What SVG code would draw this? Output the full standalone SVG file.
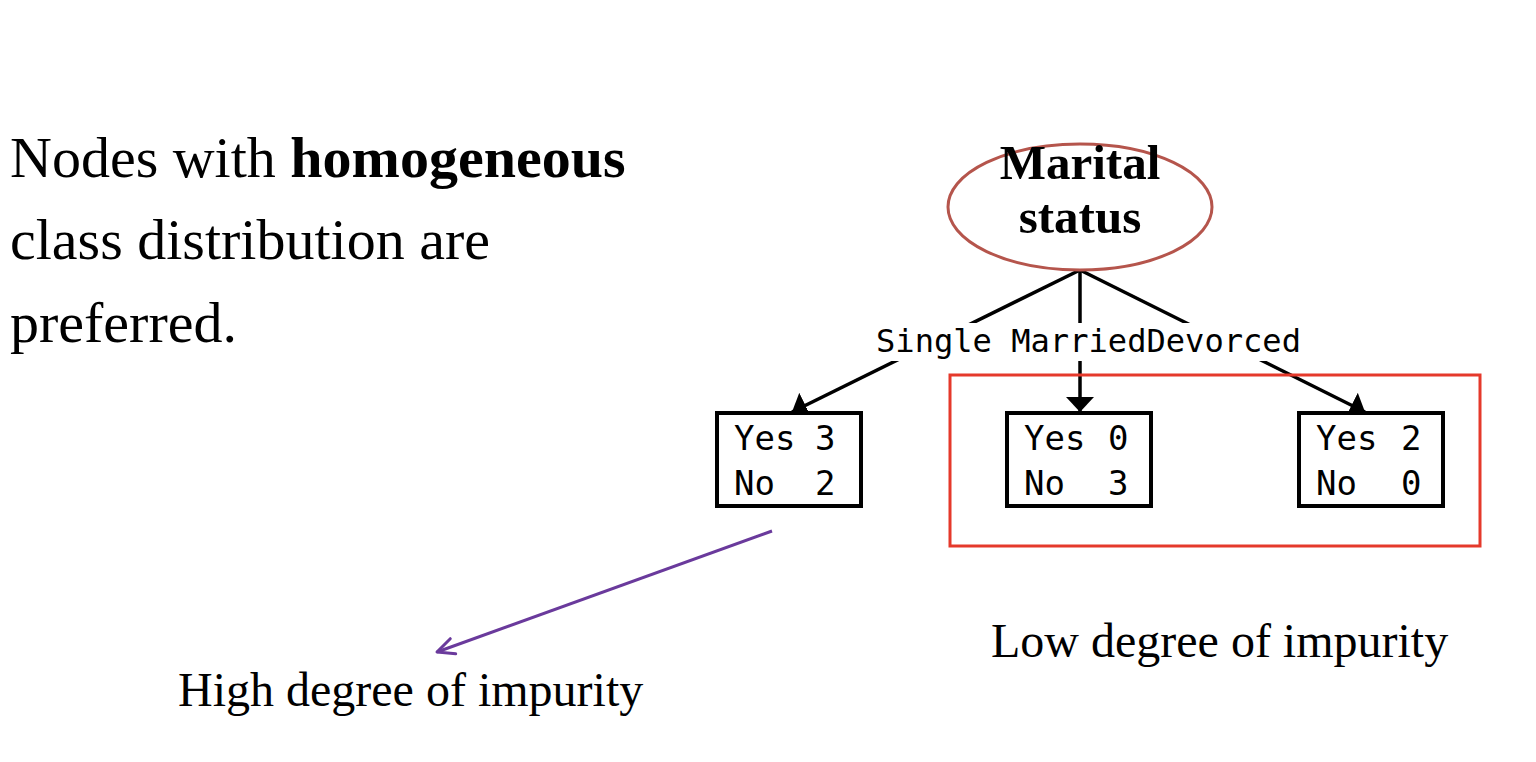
<svg xmlns="http://www.w3.org/2000/svg" width="1536" height="762" viewBox="0 0 1536 762">
<style>
.serif{font-family:"Liberation Serif","Times New Roman",serif;fill:#000}
.mono{font-family:"DejaVu Sans Mono","Liberation Mono",monospace;fill:#000}
.box{fill:#fff;stroke:#000;stroke-width:4}
.edge{stroke:#000;stroke-width:3.5;fill:none}
</style>
<defs>
<marker id="tri" markerUnits="userSpaceOnUse" viewBox="0 0 15 28" refX="15" refY="14" markerWidth="15" markerHeight="28" orient="auto">
<path d="M0,0 L15,14 L0,28 Z" fill="#000"/>
</marker>
<marker id="chev" markerUnits="userSpaceOnUse" viewBox="-20 -11 23 22" refX="0" refY="0" markerWidth="23" markerHeight="22" orient="auto">
<path d="M-17,-8 L0,0 L-17,8" fill="none" stroke="#6a3a9c" stroke-width="3" stroke-linecap="round" stroke-linejoin="round"/>
</marker>
</defs>
<rect width="1536" height="762" fill="#fff"/>

<g id="intro-text" class="serif" font-size="58">
<text x="10" y="177">Nodes with <tspan font-weight="bold">homogeneous</tspan></text>
<text x="10" y="259">class distribution are</text>
<text x="10" y="342">preferred.</text>
</g>

<g id="connectors">
<line class="edge" x1="1080" y1="270" x2="792" y2="412" marker-end="url(#tri)"/>
<line class="edge" x1="1080" y1="270" x2="1080" y2="412" marker-end="url(#tri)"/>
<line class="edge" x1="1080" y1="270" x2="1365" y2="412" marker-end="url(#tri)"/>
<rect x="868" y="323" width="442" height="38" fill="#fff"/>
<text class="mono" x="876" y="352" font-size="32" textLength="425" lengthAdjust="spacingAndGlyphs">Single MarriedDevorced</text>
<line x1="772" y1="531" x2="437" y2="652" stroke="#6a3a9c" stroke-width="3" marker-end="url(#chev)"/>
</g>

<g id="root">
<ellipse cx="1080" cy="207" rx="132" ry="63" fill="#fff" stroke="#b5554c" stroke-width="3"/>
<text class="serif" x="1080" y="179" font-size="49" font-weight="bold" text-anchor="middle">Marital</text>
<text class="serif" x="1080" y="233" font-size="49" font-weight="bold" text-anchor="middle">status</text>
</g>

<g id="leaf-single">
<rect class="box" x="717" y="413" width="144" height="93"/>
<text class="mono" x="734" y="450" font-size="34">Yes</text>
<text class="mono" x="815" y="450" font-size="34">3</text>
<text class="mono" x="734" y="495" font-size="34">No</text>
<text class="mono" x="815" y="495" font-size="34">2</text>
</g>

<g id="leaf-married">
<rect class="box" x="1007" y="413" width="144" height="93"/>
<text class="mono" x="1024" y="450" font-size="34">Yes</text>
<text class="mono" x="1108" y="450" font-size="34">0</text>
<text class="mono" x="1024" y="495" font-size="34">No</text>
<text class="mono" x="1108" y="495" font-size="34">3</text>
</g>

<g id="leaf-devorced">
<rect class="box" x="1299" y="413" width="144" height="93"/>
<text class="mono" x="1316" y="450" font-size="34">Yes</text>
<text class="mono" x="1401" y="450" font-size="34">2</text>
<text class="mono" x="1316" y="495" font-size="34">No</text>
<text class="mono" x="1401" y="495" font-size="34">0</text>
</g>

<g id="highlight">
<rect x="950" y="375" width="530" height="171" fill="none" stroke="#e5392b" stroke-width="3"/>
</g>

<g id="labels" class="serif" font-size="48">
<text x="178" y="706">High degree of impurity</text>
<text x="991" y="657">Low degree of impurity</text>
</g>
</svg>
